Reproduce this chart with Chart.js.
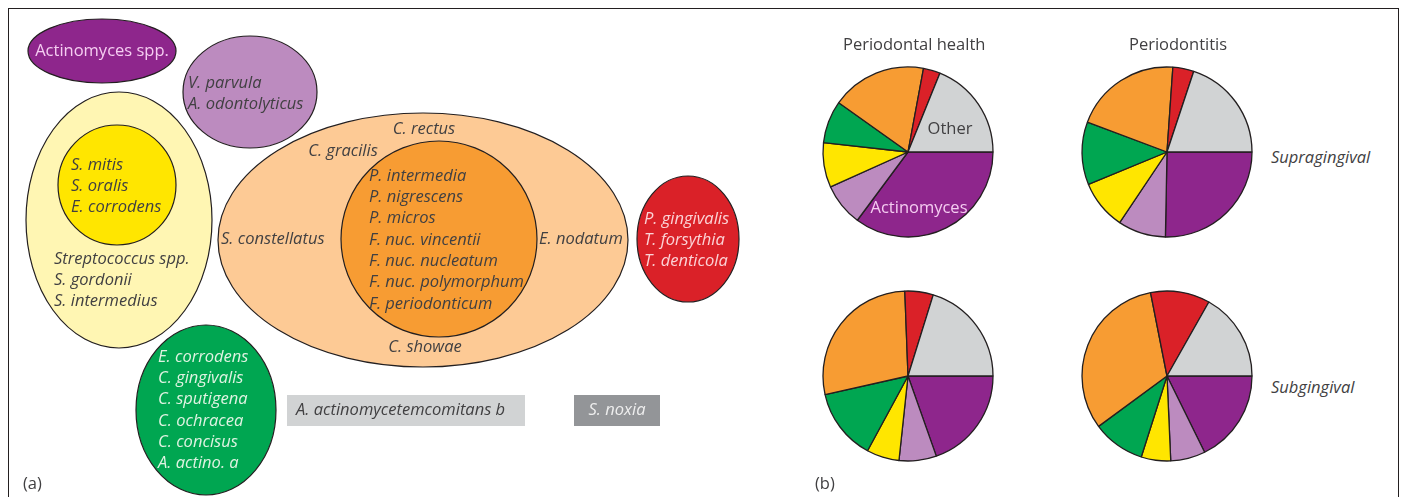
<!DOCTYPE html>
<html>
<head>
<meta charset="utf-8">
<script src="https://cdn.jsdelivr.net/npm/chart.js@4"></script>
<style>
  body { margin: 0; background: #fff; }
  #fig { position: relative; width: 1402px; height: 497px; overflow: hidden; font-family: "Open Sans", sans-serif; color: #414042; }
  #frame { position: absolute; left: 8px; top: 8px; width: 1389px; height: 520px; border: 1.5px solid #231f20; }
  canvas { position: absolute; }
  .lbl { position: absolute; font-size: 16.5px; white-space: nowrap; color: #414042; }
  .it { font-style: italic; }
</style>
</head>
<body>
<div id="fig">
  <div id="frame"></div>
  <canvas id="diagram" width="810" height="497" style="left:0;top:0"></canvas>
  <canvas id="pie1" width="200" height="200" style="left:808px;top:52px"></canvas>
  <canvas id="pie2" width="200" height="200" style="left:1067px;top:52px"></canvas>
  <canvas id="pie3" width="200" height="200" style="left:808px;top:276px"></canvas>
  <canvas id="pie4" width="200" height="200" style="left:1067px;top:276px"></canvas>
  <div class="lbl" style="left:843px;top:32px">Periodontal health</div>
  <div class="lbl" style="left:1129px;top:32px">Periodontitis</div>
  <div class="lbl it" style="left:1271px;top:145px">Supragingival</div>
  <div class="lbl it" style="left:1271px;top:375px">Subgingival</div>
  <div class="lbl" style="left:23px;top:471px">(a)</div>
  <div class="lbl" style="left:815px;top:471px">(b)</div>
</div>
<script>
// complexes, in pie order (clockwise from 3 o'clock)
const complexes = ['Actinomyces', 'Purple complex', 'Yellow complex', 'Green complex', 'Orange complex', 'Red complex', 'Other'];
const complexColors = ['#8e268c', '#bc8bbf', '#ffe600', '#00a651', '#f79c33', '#da2128', '#d1d3d4'];

// percentage of each complex
const healthSupra = [35.2, 8.1, 8.5, 8.1, 18.1, 3.2, 18.9];
const perioSupra = [25.3, 9.1, 9.4, 11.9, 20.4, 4.0, 19.9];
const healthSub = [19.6, 7.1, 6.2, 13.6, 27.9, 5.4, 20.2];
const perioSub = [17.7, 6.6, 5.6, 10.0, 32.0, 11.3, 16.8];

// species in each group of the diagram
const actinomycesSpp = ['Actinomyces spp.'];
const purpleSpecies = ['V. parvula', 'A. odontolyticus'];
const yellowSpecies = ['S. mitis', 'S. oralis', 'E. corrodens'];
const streptococci = ['Streptococcus spp.', 'S. gordonii', 'S. intermedius'];
const greenSpecies = ['E. corrodens', 'C. gingivalis', 'C. sputigena', 'C. ochracea', 'C. concisus', 'A. actino. a'];
const orangeCore = ['P. intermedia', 'P. nigrescens', 'P. micros', 'F. nuc. vincentii', 'F. nuc. nucleatum', 'F. nuc. polymorphum', 'F. periodonticum'];
const orangeAssoc = ['C. rectus', 'C. gracilis', 'S. constellatus', 'E. nodatum', 'C. showae'];
const redSpecies = ['P. gingivalis', 'T. forsythia', 'T. denticola'];
const unassigned = ['A. actinomycetemcomitans b', 'S. noxia'];

const lineGap = 21.3;
const textFont = '16.5px "Open Sans"';

// ellipses drawn on the diagram scales: centre, radii, fill
const shapes = [
  { cx: 102, cy: 51, rx: 74, ry: 32, fill: '#8e268c' },
  { cx: 250, cy: 92, rx: 67, ry: 56, fill: '#bc8bbf' },
  { cx: 119, cy: 220, rx: 93, ry: 128, fill: '#fff6b3' },
  { cx: 117, cy: 185, rx: 59, ry: 60, fill: '#ffe600' },
  { cx: 206, cy: 410, rx: 70, ry: 85, fill: '#00a651' },
  { cx: 423, cy: 240, rx: 205, ry: 127, fill: '#fdca95' },
  { cx: 439, cy: 239, rx: 98, ry: 98, fill: '#f79c33' },
  { cx: 688, cy: 239, rx: 51, ry: 63, fill: '#da2128' }
];

// text blocks: lines, x, first line y, colour, alignment
const textBlocks = [
  { lines: actinomycesSpp, x: 102, y: 51, color: '#f5cdf1', align: 'center', italic: false },
  { lines: purpleSpecies, x: 188, y: 83, color: '#414042' },
  { lines: yellowSpecies, x: 71, y: 165, color: '#414042' },
  { lines: streptococci, x: 54, y: 259, color: '#414042' },
  { lines: greenSpecies, x: 158, y: 357, color: '#dff3e2' },
  { lines: orangeCore, x: 369, y: 176, color: '#414042' },
  { lines: [orangeAssoc[0]], x: 424, y: 129, color: '#414042', align: 'center' },
  { lines: [orangeAssoc[1]], x: 343, y: 151, color: '#414042', align: 'center' },
  { lines: [orangeAssoc[2]], x: 221, y: 239, color: '#414042' },
  { lines: [orangeAssoc[3]], x: 539, y: 239, color: '#414042' },
  { lines: [orangeAssoc[4]], x: 425, y: 347, color: '#414042', align: 'center' },
  { lines: redSpecies, x: 644, y: 219, color: '#fbd3d6' }
];

// grey boxes for species outside the complexes
const boxes = [
  { x0: 287, x1: 525, y0: 395, y1: 426, fill: '#d1d3d4', text: unassigned[0], color: '#414042', tx: 296, align: 'left' },
  { x0: 574, x1: 660, y0: 395, y1: 426, fill: '#939598', text: unassigned[1], color: '#eeeeee', tx: 617, align: 'center' }
];

const diagramPlugin = {
  id: 'diagram',
  afterDraw(chart) {
    const { ctx } = chart;
    const xs = chart.scales.x, ys = chart.scales.y;
    const px = v => xs.getPixelForValue(v);
    const py = v => ys.getPixelForValue(v);
    ctx.save();
    shapes.forEach(s => {
      ctx.beginPath();
      ctx.ellipse(px(s.cx), py(s.cy), Math.abs(px(s.cx + s.rx) - px(s.cx)), Math.abs(py(s.cy + s.ry) - py(s.cy)), 0, 0, Math.PI * 2);
      ctx.fillStyle = s.fill;
      ctx.fill();
      ctx.lineWidth = 1.2;
      ctx.strokeStyle = '#231f20';
      ctx.stroke();
    });
    boxes.forEach(b => {
      ctx.fillStyle = b.fill;
      ctx.fillRect(px(b.x0), py(b.y0), px(b.x1) - px(b.x0), py(b.y1) - py(b.y0));
      ctx.font = 'italic ' + textFont;
      ctx.fillStyle = b.color;
      ctx.textAlign = b.align;
      ctx.textBaseline = 'middle';
      ctx.fillText(b.text, px(b.tx), py((b.y0 + b.y1) / 2));
    });
    textBlocks.forEach(t => {
      ctx.font = (t.italic === false ? '' : 'italic ') + textFont;
      ctx.fillStyle = t.color;
      ctx.textAlign = t.align || 'left';
      ctx.textBaseline = 'middle';
      t.lines.forEach((line, i) => ctx.fillText(line, px(t.x), py(t.y + i * lineGap)));
    });
    ctx.restore();
  }
};

new Chart(document.getElementById('diagram'), {
  type: 'scatter',
  data: { datasets: [] },
  options: {
    responsive: false,
    animation: false,
    layout: { padding: 0 },
    plugins: { legend: { display: false }, tooltip: { enabled: false } },
    scales: {
      x: { type: 'linear', min: 0, max: 810, display: false },
      y: { type: 'linear', min: 0, max: 497, reverse: true, display: false }
    }
  },
  plugins: [diagramPlugin]
});

// names written inside the first pie
const sliceNames = {
  id: 'sliceNames',
  afterDatasetsDraw(chart) {
    const arcs = chart.getDatasetMeta(0).data;
    const { ctx } = chart;
    ctx.save();
    ctx.font = textFont;
    ctx.textAlign = 'center';
    ctx.textBaseline = 'middle';
    const other = arcs[6], actino = arcs[0];
    ctx.fillStyle = '#414042';
    ctx.fillText('Other', other.x + 42, other.y - 23);
    ctx.fillStyle = '#f5cdf1';
    ctx.fillText('Actinomyces', actino.x + 11, actino.y + 56);
    ctx.restore();
  }
};

function makePie(id, values, extra) {
  return new Chart(document.getElementById(id), {
    type: 'pie',
    data: {
      labels: complexes,
      datasets: [{
        data: values,
        backgroundColor: complexColors,
        borderColor: '#231f20',
        borderWidth: 1.3
      }]
    },
    options: {
      responsive: false,
      animation: false,
      rotation: 90,
      radius: 85,
      layout: { padding: 0 },
      plugins: { legend: { display: false }, tooltip: { enabled: false } }
    },
    plugins: extra ? [extra] : []
  });
}

makePie('pie1', healthSupra, sliceNames);
makePie('pie2', perioSupra);
makePie('pie3', healthSub);
makePie('pie4', perioSub);
</script>
</body>
</html>
